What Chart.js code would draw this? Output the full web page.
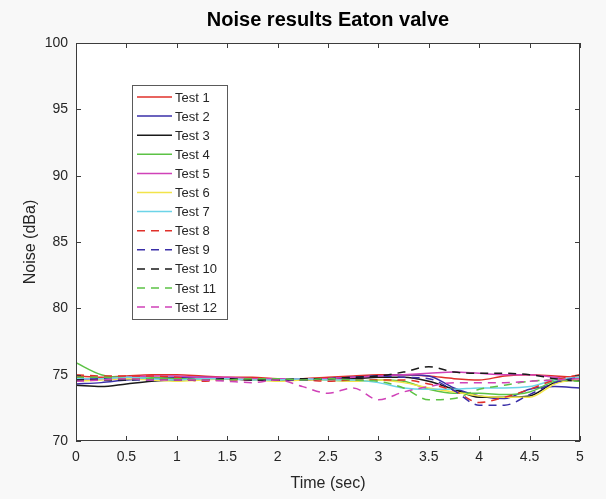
<!DOCTYPE html>
<html lang="en">
<head>
  <meta charset="UTF-8" />
  <title>Noise results Eaton valve</title>
  <style>
    html, body { margin: 0; padding: 0; background: #f8f8f8; }
    #wrap { width: 606px; height: 499px; }
  </style>
  <script src="https://cdn.jsdelivr.net/npm/chart.js"></script>
</head>
<body>
<div id="wrap"><canvas id="noiseChart" width="606" height="499"></canvas></div>

<script>
  // time axis (sec)
  const timeSec = [0, 0.25, 0.5, 0.75, 1, 1.25, 1.5, 1.75, 2, 2.25, 2.5, 2.75, 3, 3.25, 3.5, 3.75, 4, 4.25, 4.5, 4.75, 5];

  // noise readings (dBa)
  const test1  = [74.9, 74.8, 74.9, 75.0, 75.0, 74.9, 74.8, 74.8, 74.7, 74.7, 74.8, 74.9, 75.0, 75.0, 74.9, 74.7, 74.6, 74.9, 75.0, 74.9, 74.8];
  const test2  = [74.3, 74.4, 74.6, 74.7, 74.8, 74.8, 74.7, 74.6, 74.6, 74.6, 74.7, 74.8, 74.9, 75.0, 74.9, 74.0, 73.4, 73.2, 73.9, 74.1, 74.0];
  const test3  = [74.2, 74.1, 74.3, 74.5, 74.6, 74.7, 74.7, 74.6, 74.6, 74.6, 74.7, 74.7, 74.8, 74.8, 74.5, 73.9, 73.3, 73.3, 73.4, 74.4, 74.6];
  const test4  = [75.9, 75.0, 74.8, 74.8, 74.7, 74.7, 74.7, 74.6, 74.6, 74.7, 74.6, 74.5, 74.6, 74.5, 73.9, 73.6, 73.6, 73.5, 73.7, 74.5, 74.7];
  const test5  = [74.6, 74.7, 74.8, 74.9, 74.9, 74.8, 74.8, 74.7, 74.7, 74.7, 74.7, 74.8, 74.9, 75.0, 75.1, 75.2, 75.1, 75.0, 75.0, 74.8, 74.6];
  const test6  = [74.5, 74.6, 74.7, 74.6, 74.5, 74.6, 74.7, 74.6, 74.5, 74.6, 74.6, 74.5, 74.6, 74.4, 74.0, 73.7, 73.4, 73.3, 73.3, 74.3, 74.7];
  const test7  = [74.7, 74.7, 74.8, 74.7, 74.6, 74.7, 74.7, 74.6, 74.6, 74.7, 74.6, 74.6, 74.4, 74.0, 73.9, 73.9, 74.0, 74.0, 74.1, 74.6, 74.8];
  const test8  = [75.0, 74.9, 74.9, 74.9, 74.8, 74.5, 74.6, 74.6, 74.6, 74.6, 74.5, 74.6, 74.6, 74.6, 74.3, 73.8, 72.9, 73.3, 73.9, 74.6, 75.0];
  const test9  = [74.6, 74.7, 74.6, 74.6, 74.7, 74.6, 74.7, 74.6, 74.6, 74.6, 74.7, 74.8, 74.9, 74.8, 74.7, 73.8, 72.7, 72.7, 73.5, 74.4, 74.8];
  const test10 = [74.6, 74.6, 74.6, 74.7, 74.6, 74.6, 74.7, 74.6, 74.6, 74.7, 74.7, 74.8, 74.9, 75.2, 75.6, 75.2, 75.1, 75.1, 75.0, 74.7, 74.5];
  const test11 = [74.8, 74.8, 74.7, 74.7, 74.7, 74.6, 74.6, 74.7, 74.7, 74.6, 74.7, 74.6, 74.5, 74.0, 73.1, 73.2, 73.9, 74.2, 74.5, 74.6, 74.5];
  const test12 = [74.5, 74.6, 74.7, 74.6, 74.6, 74.6, 74.5, 74.4, 74.6, 74.1, 73.6, 74.0, 73.1, 73.7, 74.1, 74.4, 74.4, 74.4, 74.5, 74.6, 74.7];

  const seriesNames = ['Test 1', 'Test 2', 'Test 3', 'Test 4', 'Test 5', 'Test 6',
                       'Test 7', 'Test 8', 'Test 9', 'Test 10', 'Test 11', 'Test 12'];
  const seriesData = [test1, test2, test3, test4, test5, test6, test7, test8, test9, test10, test11, test12];
  const seriesColors = ['#e0302a', '#3a2fa8', '#1a1a1a', '#5cc245', '#d042b8', '#f2e44a',
                        '#6cd4e8', '#e0302a', '#3a2fa8', '#1a1a1a', '#5cc245', '#d042b8'];

  const xTicks = [0, 0.5, 1, 1.5, 2, 2.5, 3, 3.5, 4, 4.5, 5];
  const yTicks = [70, 75, 80, 85, 90, 95, 100];

  const axisColor = '#3c3c3c';
  const font = 'Liberation Sans, Arial, Helvetica, sans-serif';

  const datasets = seriesData.map((vals, i) => ({
    label: seriesNames[i],
    data: vals.map((v, k) => ({ x: timeSec[k], y: v })),
    borderColor: seriesColors[i],
    borderWidth: 1.5,
    borderDash: i >= 7 ? [8, 6] : [],
    pointRadius: 0,
    fill: false,
    cubicInterpolationMode: 'monotone',
    order: 12 - i
  }));

  // white plot area, matlab-like box with inward ticks, title and inset legend
  const matlabLook = {
    id: 'matlabLook',
    beforeDraw(chart) {
      const { ctx, chartArea: a } = chart;
      ctx.save();
      ctx.fillStyle = '#ffffff';
      ctx.fillRect(a.left, a.top, a.right - a.left, a.bottom - a.top);
      ctx.restore();
    },
    afterDraw(chart) {
      const { ctx, chartArea: a, scales } = chart;
      ctx.save();
      ctx.strokeStyle = axisColor;
      ctx.lineWidth = 1;
      ctx.strokeRect(a.left + 0.5, a.top + 0.5, a.right - a.left - 1, a.bottom - a.top - 1);
      const tl = 5;
      ctx.beginPath();
      xTicks.forEach(v => {
        const px = Math.round(scales.x.getPixelForValue(v)) + 0.5;
        ctx.moveTo(px, a.bottom); ctx.lineTo(px, a.bottom - tl);
        ctx.moveTo(px, a.top); ctx.lineTo(px, a.top + tl);
      });
      yTicks.forEach(v => {
        const py = Math.round(scales.y.getPixelForValue(v)) + 0.5;
        ctx.moveTo(a.left, py); ctx.lineTo(a.left + tl, py);
        ctx.moveTo(a.right, py); ctx.lineTo(a.right - tl, py);
      });
      ctx.stroke();

      // title
      ctx.fillStyle = '#000000';
      ctx.font = 'bold 20px ' + font;
      ctx.textAlign = 'center';
      ctx.textBaseline = 'middle';
      ctx.fillText('Noise results Eaton valve', (a.left + a.right) / 2, 20);

      // legend
      const bx = a.left + 56, by = a.top + 42, bw = 95, bh = 234, rowH = 19.1;
      ctx.fillStyle = '#ffffff';
      ctx.fillRect(bx, by, bw, bh);
      ctx.strokeStyle = '#5a5a5a';
      ctx.lineWidth = 1;
      ctx.strokeRect(bx + 0.5, by + 0.5, bw, bh);
      ctx.font = '13px ' + font;
      ctx.textAlign = 'left';
      chart.data.datasets.forEach((ds, i) => {
        const y = by + 12 + i * rowH;
        ctx.strokeStyle = ds.borderColor;
        ctx.lineWidth = 1.5;
        ctx.setLineDash(ds.borderDash);
        ctx.beginPath();
        ctx.moveTo(bx + 5, y); ctx.lineTo(bx + 40, y);
        ctx.stroke();
        ctx.setLineDash([]);
        ctx.fillStyle = '#262626';
        ctx.fillText(ds.label, bx + 43, y + 1);
      });
      ctx.restore();
    }
  };

  new Chart(document.getElementById('noiseChart'), {
    type: 'line',
    data: { datasets },
    options: {
      responsive: false,
      animation: false,
      layout: { padding: { top: 43, right: 26, left: 0, bottom: 0 } },
      plugins: { legend: { display: false }, title: { display: false }, tooltip: { enabled: false } },
      scales: {
        x: {
          type: 'linear', min: 0, max: 5,
          afterFit: s => { s.height = 58; },
          afterBuildTicks: s => { s.ticks = xTicks.map(v => ({ value: v })); },
          grid: { display: false, drawTicks: false },
          border: { display: false },
          ticks: { color: '#262626', padding: 8, maxRotation: 0, autoSkip: false,
                   font: { family: font, size: 14 }, callback: v => String(v) },
          title: { display: true, text: 'Time (sec)', color: '#262626', padding: { top: 0, bottom: 6 },
                   font: { family: font, size: 16 } }
        },
        y: {
          min: 70, max: 100,
          afterFit: s => { s.width = 76; },
          afterBuildTicks: s => { s.ticks = yTicks.map(v => ({ value: v })); },
          grid: { display: false, drawTicks: false },
          border: { display: false },
          ticks: { color: '#262626', padding: 8, font: { family: font, size: 14 }, callback: v => String(v) },
          title: { display: true, text: 'Noise (dBa)', color: '#262626', padding: { top: 21, bottom: 0 },
                   font: { family: font, size: 16 } }
        }
      }
    },
    plugins: [matlabLook]
  });
</script>
</body>
</html>
